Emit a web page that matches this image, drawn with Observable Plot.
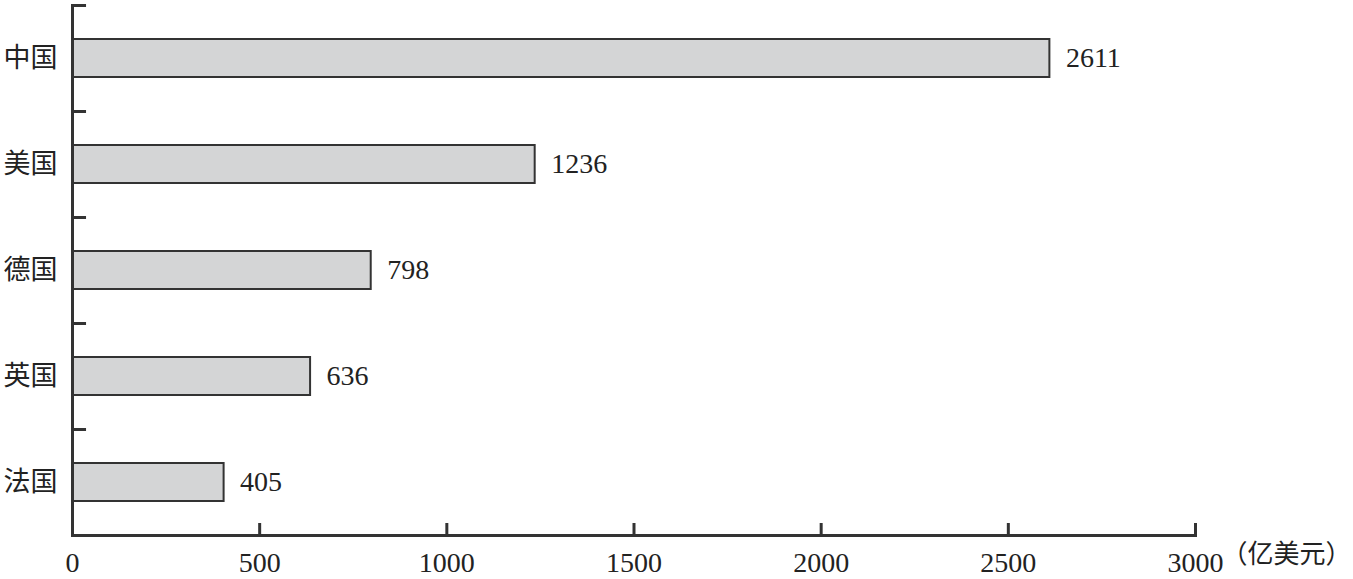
<!DOCTYPE html>
<html>
<head>
<meta charset="utf-8">
<script src="https://cdn.jsdelivr.net/npm/d3@7"></script>
<script src="https://cdn.jsdelivr.net/npm/@observablehq/plot@0.6"></script>
<style>
  html, body { margin: 0; padding: 0; background: #fff; }
  #chart svg { display: block; }
</style>
</head>
<body>
<div id="chart"></div>
<script>
const countries = ["中国", "美国", "德国", "英国", "法国"];
const values = [2611, 1236, 798, 636, 405];
const xTicks = [0, 500, 1000, 1500, 2000, 2500, 3000];
const unitLabel = "（亿美元）";
const yTickLen = 37.5; // length of y tick in data units

const data = countries.map((c, i) => ({country: c, value: values[i]}));
const axisColor = "#333";
const numFont = "'Liberation Serif', 'DejaVu Serif', serif";
const cjkFont = "'Noto Sans CJK SC', sans-serif";

const chart = Plot.plot({
  width: 1353,
  height: 579,
  marginLeft: 72,
  marginRight: 158,
  marginTop: 5,
  marginBottom: 44,
  style: {background: "#fff", overflow: "visible"},
  x: {domain: [0, 3000], ticks: xTicks},
  y: {domain: countries, paddingInner: 0.64, paddingOuter: 0.32},
  marks: [
    Plot.barX(data, {x: "value", y: "country", fill: "#d4d5d6", stroke: axisColor, strokeWidth: 2}),
    Plot.text(data, {x: "value", y: "country", text: d => String(d.value), textAnchor: "start", dx: 16,
      fontSize: 28, fontFamily: numFont, fill: "#222"}),
    Plot.ruleY(countries, {y: d => d, dy: -53, x1: 0, x2: yTickLen, stroke: axisColor, strokeWidth: 3}),
    Plot.axisY({tickSize: 0, tickPadding: 15, fontSize: 27, fontFamily: cjkFont, color: "#222", label: null}),
    Plot.axisX({ticks: xTicks, tickSize: -12, tickPadding: 29, strokeWidth: 3, stroke: axisColor, fontSize: 28,
      fontFamily: numFont, color: "#222", label: null, tickFormat: d => String(d)}),
    Plot.text([unitLabel], {x: 3000, frameAnchor: "bottom", text: d => d, textAnchor: "start", dx: 26, dy: 27,
      fontSize: 26, fontFamily: cjkFont, fill: "#222"}),
    Plot.frame({anchor: "left", stroke: axisColor, strokeWidth: 3}),
    Plot.frame({anchor: "bottom", stroke: axisColor, strokeWidth: 3})
  ]
});
document.getElementById("chart").appendChild(chart);
</script>
</body>
</html>
